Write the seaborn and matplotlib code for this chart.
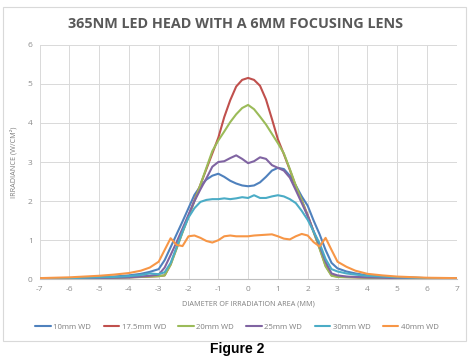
import numpy as np
import pandas as pd
import matplotlib.pyplot as plt
import seaborn as sns
from matplotlib.patches import Rectangle

sns.set_style("white")
plt.rcParams["font.family"] = ["Open Sans", "DejaVu Sans"]

# Mittauspisteet (mm)
x_mm = [-7, -6, -5, -4.5, -4, -3.6, -3.3,
        -3.0, -2.8, -2.6, -2.4, -2.2, -2.0, -1.8, -1.6, -1.4, -1.2, -1.0,
        -0.8, -0.6, -0.4, -0.2, 0.0, 0.2, 0.4, 0.6, 0.8, 1.0,
        1.2, 1.4, 1.6, 1.8, 2.0, 2.2, 2.4, 2.6, 2.8, 3.0,
        3.3, 3.6, 4, 4.5, 5, 6, 7]

wd_10 = [0.02, 0.03, 0.05, 0.07, 0.10, 0.14, 0.19,
         0.26, 0.49, 0.82, 1.15, 1.48, 1.82, 2.16, 2.38, 2.55, 2.65, 2.70,
         2.62, 2.52, 2.45, 2.40, 2.38, 2.40, 2.48, 2.62, 2.78, 2.85,
         2.82, 2.65, 2.40, 2.12, 1.88, 1.50, 1.15, 0.75, 0.42, 0.28,
         0.20, 0.15, 0.10, 0.07, 0.05, 0.03, 0.02]

wd_17_5 = [0.01, 0.02, 0.03, 0.04, 0.05, 0.06, 0.07,
           0.08, 0.10, 0.38, 0.80, 1.22, 1.62, 2.02, 2.42, 2.82, 3.22, 3.62,
           4.15, 4.58, 4.93, 5.10, 5.15, 5.10, 4.95, 4.60, 4.10, 3.58,
           3.20, 2.80, 2.38, 2.02, 1.64, 1.22, 0.80, 0.35, 0.10, 0.07,
           0.06, 0.05, 0.04, 0.03, 0.03, 0.02, 0.01]

wd_20 = [0.01, 0.02, 0.03, 0.04, 0.05, 0.06, 0.07,
         0.08, 0.10, 0.37, 0.78, 1.20, 1.60, 2.00, 2.42, 2.85, 3.28, 3.55,
         3.78, 4.02, 4.22, 4.38, 4.46, 4.35, 4.16, 3.96, 3.72, 3.48,
         3.22, 2.82, 2.40, 2.02, 1.62, 1.20, 0.78, 0.33, 0.09, 0.06,
         0.05, 0.05, 0.04, 0.03, 0.03, 0.02, 0.01]

wd_25 = [0.01, 0.02, 0.03, 0.04, 0.05, 0.07, 0.09,
         0.12, 0.30, 0.62, 0.95, 1.30, 1.65, 2.00, 2.30, 2.58, 2.88, 3.00,
         3.02, 3.10, 3.17, 3.08, 2.97, 3.02, 3.12, 3.08, 2.92, 2.85,
         2.78, 2.60, 2.28, 1.95, 1.62, 1.22, 0.86, 0.45, 0.15, 0.10,
         0.07, 0.06, 0.05, 0.04, 0.03, 0.02, 0.01]

wd_30 = [0.02, 0.03, 0.05, 0.06, 0.08, 0.11, 0.15,
         0.13, 0.18, 0.42, 0.82, 1.22, 1.58, 1.82, 1.98, 2.03, 2.05, 2.05,
         2.07, 2.05, 2.07, 2.10, 2.08, 2.15, 2.08, 2.08, 2.12, 2.15,
         2.12, 2.05, 1.95, 1.75, 1.52, 1.22, 0.92, 0.52, 0.26, 0.20,
         0.15, 0.12, 0.09, 0.07, 0.05, 0.03, 0.02]

wd_40 = [0.03, 0.05, 0.09, 0.12, 0.16, 0.22, 0.30,
         0.45, 0.75, 1.05, 0.88, 0.85, 1.10, 1.12, 1.06, 0.98, 0.94, 1.00,
         1.10, 1.12, 1.10, 1.10, 1.10, 1.12, 1.13, 1.14, 1.15, 1.10,
         1.04, 1.02, 1.10, 1.16, 1.12, 0.95, 0.84, 1.06, 0.75, 0.45,
         0.32, 0.22, 0.14, 0.10, 0.07, 0.04, 0.03]

series_names = ["10mm WD", "17.5mm WD", "20mm WD", "25mm WD", "30mm WD", "40mm WD"]
series_values = [wd_10, wd_17_5, wd_20, wd_25, wd_30, wd_40]
colors = ["#4F81BD", "#C0504D", "#9BBB59", "#8064A2", "#4BACC6", "#F79646"]

x_ticks = list(range(-7, 8))
y_ticks = list(range(0, 7))

df = pd.concat([
    pd.DataFrame({"x": x_mm, "y": vals, "WD": name})
    for name, vals in zip(series_names, series_values)
], ignore_index=True)

fig = plt.figure(figsize=(4.74, 3.6), dpi=100)
fig.patch.set_facecolor("white")

# Kaavion reunus
fig.patches.append(Rectangle((3 / 474, 1 - 341 / 360), 463 / 474, 334 / 360,
                             transform=fig.transFigure, fill=False,
                             edgecolor="#D9D9D9", linewidth=0.8))

ax = fig.add_axes([39.5 / 474, 1 - 279.3 / 360, 417.2 / 474, 234.6 / 360])

sns.lineplot(data=df, x="x", y="y", hue="WD", palette=dict(zip(series_names, colors)),
             linewidth=1.5, ax=ax, legend=False, sort=False, estimator=None)

ax.set_xlim(-7, 7)
ax.set_ylim(0, 6)
ax.set_xticks(x_ticks)
ax.set_yticks(y_ticks)
ax.set_xticklabels([str(t) for t in x_ticks])
ax.set_yticklabels([str(t) for t in y_ticks])
ax.tick_params(axis="both", labelsize=6, colors="#8C8C8C", length=0, pad=5)
ax.grid(True, color="#D9D9D9", linewidth=0.7)
ax.set_axisbelow(True)
for side in ["top", "right", "left"]:
    ax.spines[side].set_visible(False)
ax.spines["bottom"].set_color("#BFBFBF")
ax.spines["bottom"].set_linewidth(0.8)

ax.set_xlabel("DIAMETER OF IRRADIATION AREA (MM)", fontsize=5.2, color="#7F7F7F", labelpad=5)
ax.set_ylabel("IRRADIANCE (W/CM²)", fontsize=5.2, color="#7F7F7F", labelpad=7)

fig.text(0.498, 1 - 24 / 360, "365NM LED HEAD WITH A 6MM FOCUSING LENS",
         ha="center", va="center", fontsize=10.4, fontweight="bold", color="#595959")

handles = ax.get_lines()[:len(series_names)]
fig.legend(handles, series_names, loc="center", bbox_to_anchor=(0.5, 1 - 327 / 360),
           ncol=6, frameon=False, fontsize=5.6, handlelength=2.0, handletextpad=0.3,
           columnspacing=1.6, labelcolor="#7F7F7F")

fig.text(0.5, 1 - 348.5 / 360, "Figure 2", ha="center", va="center",
         fontsize=10, fontweight="bold", color="black", family=["Liberation Sans", "DejaVu Sans"])

fig.savefig("out.png", dpi=100)
